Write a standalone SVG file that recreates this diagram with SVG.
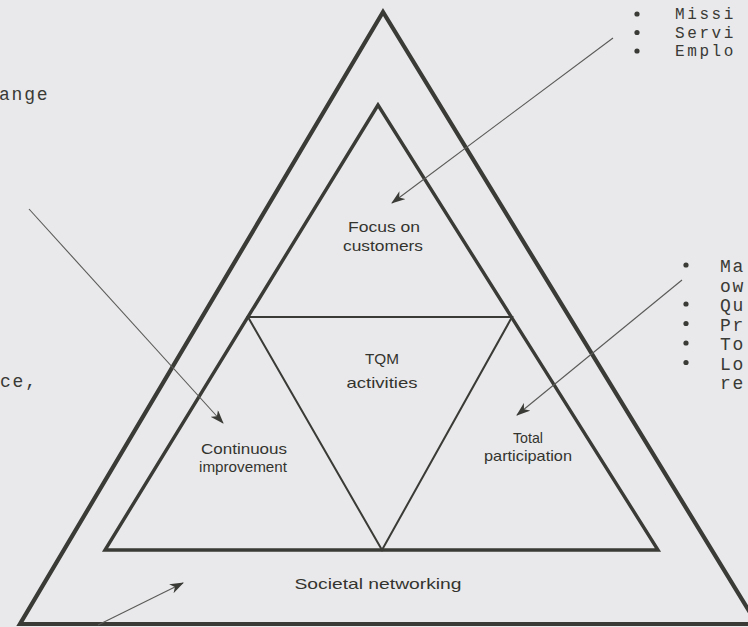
<svg xmlns="http://www.w3.org/2000/svg" width="748" height="627" viewBox="0 0 748 627">
<defs>
<marker id="ah" viewBox="0 0 14 10" refX="13" refY="5" markerWidth="14" markerHeight="10" markerUnits="userSpaceOnUse" orient="auto">
<path d="M0,0 L14,5 L0,10 L4,5 z" fill="#3a3a36"/>
</marker>
<style>
.tri{fill:none;stroke:#3a3a36;stroke-linejoin:miter}
.lbl{font-family:"Liberation Sans",Arial,sans-serif;font-size:15px;fill:#34342f;text-anchor:middle}
.mono{font-family:"Liberation Mono","Courier New",monospace;font-size:18px;fill:#3a3a36;letter-spacing:1.8px}
.mono.sm{font-size:16px;letter-spacing:2.6px}
.bul{fill:#3a3a36}
.con{stroke:#5a5a58;stroke-width:1.1;fill:none;marker-end:url(#ah)}
</style>
</defs>
<rect width="748" height="627" fill="#e9e9eb"/>
<g id="outer"><polygon class="tri" stroke-width="4.2" points="383,12 20,624 757,624"/></g>
<g id="inner"><polygon class="tri" stroke-width="3.4" points="378,105 105,550 658,550"/></g>
<g id="tqm"><polygon class="tri" stroke-width="2" points="248,317 512,317 382,550"/>
<text class="lbl" x="382" y="364" textLength="34" lengthAdjust="spacingAndGlyphs">TQM</text>
<text class="lbl" x="382" y="388" textLength="71" lengthAdjust="spacingAndGlyphs">activities</text></g>
<g id="focus"><text class="lbl" x="384" y="232" textLength="72" lengthAdjust="spacingAndGlyphs">Focus on</text><text class="lbl" x="383" y="251" textLength="80" lengthAdjust="spacingAndGlyphs">customers</text></g>
<g id="continuous"><text class="lbl" x="244" y="454" textLength="86" lengthAdjust="spacingAndGlyphs">Continuous</text><text class="lbl" x="243" y="472" textLength="88" lengthAdjust="spacingAndGlyphs">improvement</text></g>
<g id="total"><text class="lbl" x="528" y="443" textLength="30" lengthAdjust="spacingAndGlyphs">Total</text><text class="lbl" x="528" y="461" textLength="88" lengthAdjust="spacingAndGlyphs">participation</text></g>
<g id="societal"><text class="lbl" x="378" y="589" textLength="167" lengthAdjust="spacingAndGlyphs">Societal networking</text></g>
<g id="left-text"><text class="mono" x="-1" y="100">ange</text><text class="mono" x="0" y="387">ce,</text></g>
<g id="top-right-list">
<circle class="bul" cx="637" cy="14" r="2.6"/><circle class="bul" cx="637" cy="32.5" r="2.6"/><circle class="bul" cx="637" cy="51" r="2.6"/>
<text class="mono sm" x="675" y="19">Missi</text><text class="mono sm" x="675" y="37.5">Servi</text><text class="mono sm" x="675" y="56">Emplo</text>
</g>
<g id="right-list">
<circle class="bul" cx="686" cy="265" r="2.6"/><circle class="bul" cx="686" cy="304" r="2.6"/><circle class="bul" cx="686" cy="323.5" r="2.6"/><circle class="bul" cx="686" cy="343" r="2.6"/><circle class="bul" cx="686" cy="362.5" r="2.6"/>
<text class="mono" x="720" y="272">Ma</text><text class="mono" x="720" y="291.5">ow</text><text class="mono" x="720" y="311">Qu</text><text class="mono" x="720" y="330.5">Pr</text><text class="mono" x="720" y="350">To</text><text class="mono" x="720" y="369.5">Lo</text><text class="mono" x="720" y="389">re</text>
</g>
<g id="connectors">
<line class="con" x1="613" y1="38" x2="392" y2="203"/>
<line class="con" x1="29" y1="209" x2="223" y2="423"/>
<line class="con" x1="682" y1="280" x2="517" y2="415"/>
<line class="con" x1="98" y1="625" x2="183" y2="583"/>
</g>
</svg>
